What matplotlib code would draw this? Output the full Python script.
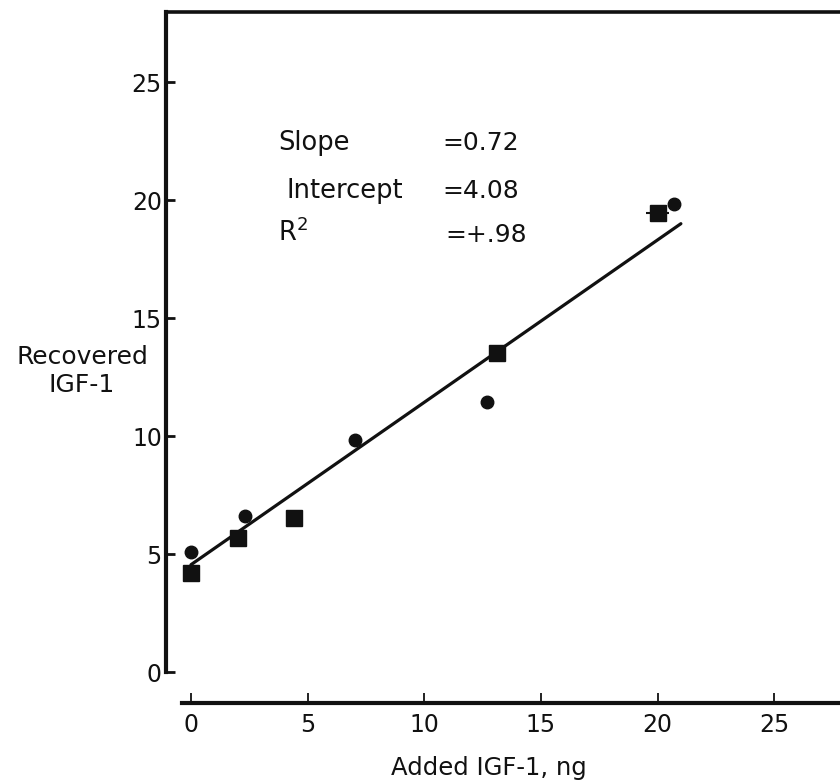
"""
Recovered vs added IGF-1 (scanned-figure style), saved to out.png
"""

import matplotlib
matplotlib.use("Agg")
import matplotlib.pyplot as plt

# -- Data --------------------------------------------------------------------
square_x = [0.0, 2.0, 4.4, 13.1, 20.0]
square_y = [4.2, 5.7, 6.55, 13.5, 19.45]
square_xerr = [0, 0, 0, 0, 0.5]

circle_x = [0.0, 2.3, 7.05, 12.7, 20.7]
circle_y = [5.1, 6.6, 9.85, 11.45, 19.85]

fit_x = [0.0, 21.0]
fit_y = [4.55, 19.0]

x_ticks = [0, 5, 10, 15, 20, 25]
y_ticks = [0, 5, 10, 15, 20, 25]

stat_names = ["Slope", "Intercept", "R$^2$"]
stat_values = ["=0.72", "=4.08", "=+.98"]

BLACK = "#111111"
FONT = "DejaVu Sans"

# -- Figure ------------------------------------------------------------------
fig = plt.figure(figsize=(8.4, 7.83), dpi=100)
ax = fig.add_axes([166 / 840, 1 - 703 / 783, 1 - 166 / 840, (703 - 12) / 783])
ax.set_xlim(-1.07, 27.82)
ax.set_ylim(-1.31, 27.97)

ax.plot(fit_x, fit_y, color=BLACK, lw=2.3, solid_capstyle="round", zorder=2)
ax.errorbar(square_x, square_y, xerr=square_xerr, fmt="s", ms=12,
            color=BLACK, ecolor=BLACK, elinewidth=1.5, capsize=0, zorder=3)
ax.plot(circle_x, circle_y, "o", ms=9, color=BLACK, zorder=3)

# Spines: open frame, y-axis stops at 0, separate x baseline below
ax.spines["right"].set_visible(False)
ax.spines["top"].set_linewidth(2.6)
ax.spines["left"].set_linewidth(3.0)
ax.spines["bottom"].set_linewidth(3.0)
ax.spines["left"].set_bounds(0, 27.97)
ax.spines["bottom"].set_bounds(-0.4, 27.82)
for s in ax.spines.values():
    s.set_color(BLACK)

ax.set_xticks(x_ticks)
ax.set_yticks(y_ticks)
ax.tick_params(axis="x", direction="in", length=7, width=1.3, pad=7,
               labelsize=17, colors=BLACK)
ax.tick_params(axis="y", direction="in", length=6.5, width=2, pad=3,
               labelsize=17, colors=BLACK)
for lab in ax.get_xticklabels() + ax.get_yticklabels():
    lab.set_family(FONT)

ax.set_xlabel("Added IGF-1, ng", fontsize=17.5, family=FONT, color=BLACK)
ax.xaxis.set_label_coords((489 - 166) / 674, -0.077)
ax.set_ylabel("Recovered\nIGF-1", fontsize=18, family=FONT, color=BLACK,
              rotation=0, ha="center", va="center", linespacing=1.25)
ax.yaxis.set_label_coords((82 - 166) / 674, (703 - 371) / 691)

# Regression stats block
name_pos = [(3.73, 22.4), (4.1, 20.4), (3.73, 18.6)]
value_pos = [(10.76, 22.4), (10.76, 20.4), (10.9, 18.5)]
for name, (nx, ny), val, (vx, vy) in zip(stat_names, name_pos, stat_values, value_pos):
    ax.text(nx, ny, name, ha="left", va="center", fontsize=18.5, family=FONT, color=BLACK)
    ax.text(vx, vy, val, ha="left", va="center", fontsize=18, family=FONT, color=BLACK)

fig.savefig("out.png", dpi=100, facecolor="white")
plt.close(fig)
